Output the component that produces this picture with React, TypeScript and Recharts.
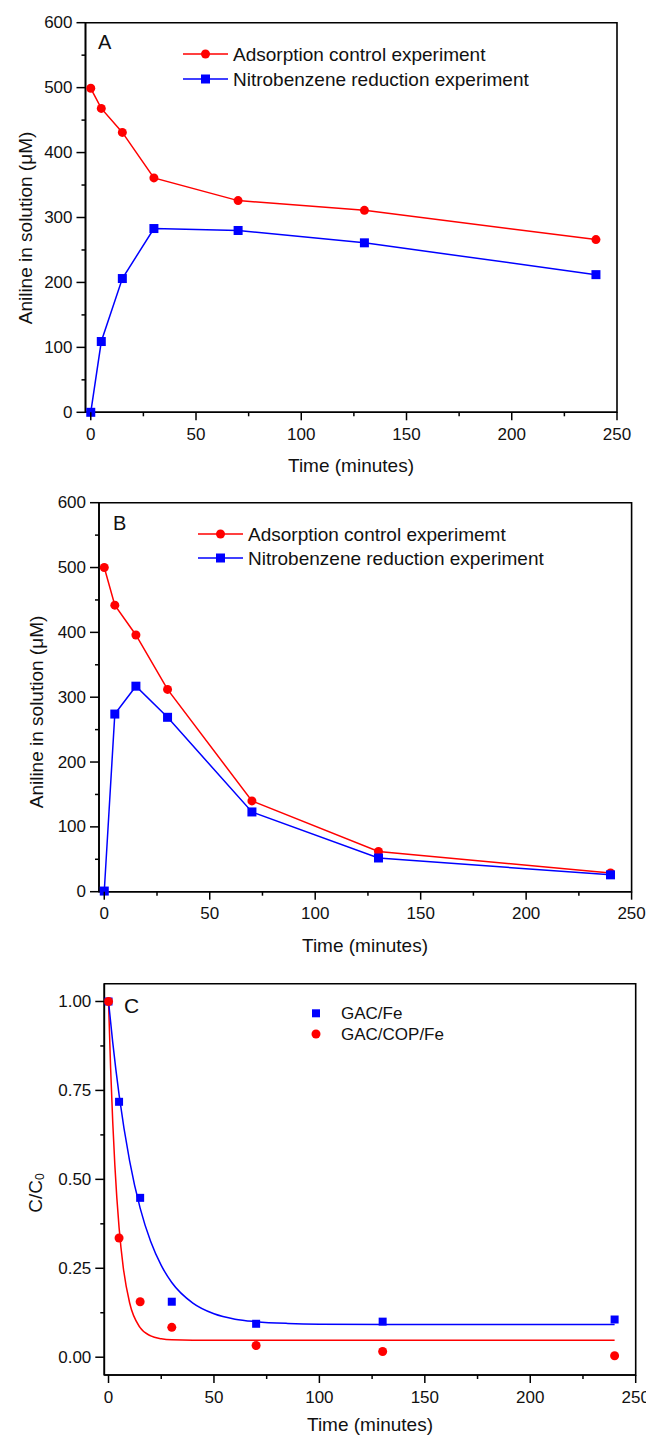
import React from "react";
import { LineChart, Line, XAxis, YAxis, ReferenceArea, ComposedChart, Scatter } from "recharts";

// ---------- data ----------
const timesAB = [0, 5, 15, 30, 70, 130, 240];
const adsorptionA = [499, 468, 431, 361, 326, 311, 266];
const nitroA = [0, 109, 206, 283, 280, 261, 212];
const adsorptionB = [500, 442, 396, 312, 140, 62, 29];
const nitroB = [1, 274, 317, 269, 123, 52, 26];

const timesC = [0, 5, 15, 30, 70, 130, 240];
const gacFe = [1.0, 0.718, 0.448, 0.156, 0.094, 0.1, 0.106];
const gacCopFe = [1.0, 0.335, 0.156, 0.084, 0.033, 0.016, 0.004];

const fitTimesBlue = [0, 2, 5, 10, 15, 20, 25, 30, 40, 50, 60, 70, 85, 100, 150, 240];
const fitBlue = [1.0, 0.885, 0.738, 0.552, 0.419, 0.325, 0.258, 0.21, 0.152, 0.122, 0.107, 0.1, 0.095, 0.093, 0.092, 0.092];
const fitTimesRed = [0, 1, 2, 3, 5, 7, 10, 15, 20, 25, 30, 40, 240];
const fitRed = [1.0, 0.812, 0.661, 0.54, 0.365, 0.252, 0.153, 0.083, 0.06, 0.052, 0.049, 0.048, 0.048];

const xTicks = [0, 25, 50, 75, 100, 125, 150, 175, 200, 225, 250];
const yTicksAB = [0, 50, 100, 150, 200, 250, 300, 350, 400, 450, 500, 550, 600];
const yTicksC = [0, 0.125, 0.25, 0.375, 0.5, 0.625, 0.75, 0.875, 1.0];

const legendAB_A = ["Adsorption control experiment", "Nitrobenzene reduction experiment"];
const legendAB_B = ["Adsorption control experimemt", "Nitrobenzene reduction experiment"];
const legendC = ["GAC/Fe", "GAC/COP/Fe"];

const rowsA = timesAB.map((t, i) => ({ t, red: adsorptionA[i], blue: nitroA[i] }));
const rowsB = timesAB.map((t, i) => ({ t, red: adsorptionB[i], blue: nitroB[i] }));
const ptsBlueC = timesC.map((t, i) => ({ t, v: gacFe[i] }));
const ptsRedC = timesC.map((t, i) => ({ t, v: gacCopFe[i] }));
const curveBlueC = fitTimesBlue.map((t, i) => ({ t, v: fitBlue[i] }));
const curveRedC = fitTimesRed.map((t, i) => ({ t, v: fitRed[i] }));

// ---------- styles ----------
const FONT = "'Liberation Sans', Arial, Helvetica, sans-serif";
const RED = "#ff0000";
const BLUE = "#0000ff";
const YW = 60; // y-axis area width
const XH = 40; // x-axis area height

const XTick = (props: any) => {
  const { x, y, payload } = props;
  const v = payload.value;
  const major = v % 50 === 0;
  return (
    <g>
      <line x1={x} x2={x} y1={y} y2={y + (major ? 8 : 4)} stroke="#000" strokeWidth={1.5} />
      {major && (
        <text x={x} y={y + 22} textAnchor="middle" dominantBaseline="central" fontSize={17} fontFamily={FONT} fill="#111">
          {v}
        </text>
      )}
    </g>
  );
};

const YTickAB = (props: any) => {
  const { x, y, payload } = props;
  const v = payload.value;
  const major = v % 100 === 0;
  return (
    <g>
      <line x1={x} x2={x - (major ? 9 : 4)} y1={y} y2={y} stroke="#000" strokeWidth={1.5} />
      {major && (
        <text x={x - 13} y={y} textAnchor="end" dominantBaseline="central" fontSize={17} fontFamily={FONT} fill="#111">
          {v}
        </text>
      )}
    </g>
  );
};

const YTickC = (props: any) => {
  const { x, y, payload } = props;
  const v = payload.value;
  const major = Math.abs(v * 4 - Math.round(v * 4)) < 1e-6;
  return (
    <g>
      <line x1={x} x2={x - (major ? 9 : 4)} y1={y} y2={y} stroke="#000" strokeWidth={1.5} />
      {major && (
        <text x={x - 13} y={y} textAnchor="end" dominantBaseline="central" fontSize={17} fontFamily={FONT} fill="#111">
          {v.toFixed(2)}
        </text>
      )}
    </g>
  );
};

const SquareDot = (color: string, size: number) => (props: any) => {
  const { cx, cy, index } = props;
  if (cx == null || cy == null) return <g key={index} />;
  return <rect key={index} x={cx - size / 2} y={cy - size / 2} width={size} height={size} fill={color} />;
};
const CircleDot = (color: string, r: number) => (props: any) => {
  const { cx, cy, index } = props;
  if (cx == null || cy == null) return <g key={index} />;
  return <circle key={index} cx={cx} cy={cy} r={r} fill={color} />;
};

const ScatterSquare = (color: string, size: number) => (props: any) => {
  const { cx, cy } = props;
  return <rect x={cx - size / 2} y={cy - size / 2} width={size} height={size} fill={color} />;
};
const ScatterCircle = (color: string, r: number) => (props: any) => {
  const { cx, cy } = props;
  return <circle cx={cx} cy={cy} r={r} fill={color} />;
};

const xDomainAB: [number, number] = [-2.5, 250];
const yDomainAB: [number, number] = [0, 600];
const xDomainC: [number, number] = [-2, 250];
const yDomainC: [number, number] = [-0.05, 1.05];

function PanelAB({ rows, margin }: { rows: any[]; margin: any }) {
  return (
    <LineChart width={646} height={480} data={rows} margin={margin}>
      <ReferenceArea
        x1={xDomainAB[0]}
        x2={xDomainAB[1]}
        y1={yDomainAB[0]}
        y2={yDomainAB[1]}
        fill="none"
        fillOpacity={0}
        stroke="#000"
        strokeWidth={1.6}
      />
      <XAxis
        dataKey="t"
        type="number"
        domain={xDomainAB}
        ticks={xTicks}
        interval={0}
        height={XH}
        tickSize={0}
        tickMargin={0}
        tick={XTick}
        axisLine={{ stroke: "#000", strokeWidth: 1.6 }}
        tickLine={false}
      />
      <YAxis
        type="number"
        domain={yDomainAB}
        ticks={yTicksAB}
        interval={0}
        width={YW}
        tickSize={0}
        tickMargin={0}
        tick={YTickAB}
        axisLine={{ stroke: "#000", strokeWidth: 1.6 }}
        tickLine={false}
      />
      <Line
        dataKey="red"
        stroke={RED}
        strokeWidth={1.5}
        type="linear"
        dot={CircleDot(RED, 4.5)}
        isAnimationActive={false}
      />
      <Line
        dataKey="blue"
        stroke={BLUE}
        strokeWidth={1.5}
        type="linear"
        dot={SquareDot(BLUE, 9)}
        isAnimationActive={false}
      />
    </LineChart>
  );
}

function PanelC() {
  return (
    <ComposedChart width={646} height={476} margin={{ top: 23.7, right: 10.3, bottom: 61 - XH, left: 104.3 - YW }}>
      <ReferenceArea
        x1={xDomainC[0]}
        x2={xDomainC[1]}
        y1={yDomainC[0]}
        y2={yDomainC[1]}
        fill="none"
        fillOpacity={0}
        stroke="#000"
        strokeWidth={1.6}
      />
      <XAxis
        dataKey="t"
        type="number"
        domain={xDomainC}
        ticks={xTicks}
        interval={0}
        height={XH}
        tickSize={0}
        tickMargin={0}
        tick={XTick}
        axisLine={{ stroke: "#000", strokeWidth: 1.6 }}
        tickLine={false}
      />
      <YAxis
        dataKey="v"
        type="number"
        domain={yDomainC}
        ticks={yTicksC}
        interval={0}
        width={YW}
        tickSize={0}
        tickMargin={0}
        tick={YTickC}
        axisLine={{ stroke: "#000", strokeWidth: 1.6 }}
        tickLine={false}
      />
      <Line data={curveRedC} dataKey="v" stroke={RED} strokeWidth={1.5} type="monotone" dot={false} isAnimationActive={false} />
      <Line data={curveBlueC} dataKey="v" stroke={BLUE} strokeWidth={1.5} type="monotone" dot={false} isAnimationActive={false} />
      <Scatter data={ptsBlueC} dataKey="v" fill={BLUE} shape={ScatterSquare(BLUE, 8)} isAnimationActive={false} />
      <Scatter data={ptsRedC} dataKey="v" fill={RED} shape={ScatterCircle(RED, 4.5)} isAnimationActive={false} />
    </ComposedChart>
  );
}

function LineLegendItem({ x, y, color, shape, label }: any) {
  return (
    <g>
      <line x1={x} x2={x + 45} y1={y} y2={y} stroke={color} strokeWidth={1.5} />
      {shape === "circle" ? (
        <circle cx={x + 22.5} cy={y} r={4.5} fill={color} />
      ) : (
        <rect x={x + 18} y={y - 4.5} width={9} height={9} fill={color} />
      )}
      <text x={x + 50} y={y} dominantBaseline="central" fontSize={19} fontFamily={FONT} fill="#111">
        {label}
      </text>
    </g>
  );
}

function Overlay() {
  return (
    <svg
      width={646}
      height={1436}
      style={{ position: "absolute", top: 0, left: 0, pointerEvents: "none" }}
    >
      {/* Panel A */}
      <text x={98} y={42} dominantBaseline="central" fontSize={20} fontFamily={FONT} fill="#111">A</text>
      <LineLegendItem x={183} y={54} color={RED} shape="circle" label={legendAB_A[0]} />
      <LineLegendItem x={183} y={79} color={BLUE} shape="square" label={legendAB_A[1]} />
      <text x={351} y={465} textAnchor="middle" dominantBaseline="central" fontSize={19} fontFamily={FONT} fill="#111">
        Time (minutes)
      </text>
      <text
        transform="translate(25,228) rotate(-90)"
        textAnchor="middle"
        dominantBaseline="central"
        fontSize={19}
        fontFamily={FONT}
        fill="#111"
      >
        Aniline in solution (μM)
      </text>

      {/* Panel B */}
      <text x={113} y={523} dominantBaseline="central" fontSize={20} fontFamily={FONT} fill="#111">B</text>
      <LineLegendItem x={198} y={534} color={RED} shape="circle" label={legendAB_B[0]} />
      <LineLegendItem x={198} y={558} color={BLUE} shape="square" label={legendAB_B[1]} />
      <text x={365} y={945} textAnchor="middle" dominantBaseline="central" fontSize={19} fontFamily={FONT} fill="#111">
        Time (minutes)
      </text>
      <text
        transform="translate(36,712) rotate(-90)"
        textAnchor="middle"
        dominantBaseline="central"
        fontSize={19}
        fontFamily={FONT}
        fill="#111"
      >
        Aniline in solution (μM)
      </text>

      {/* Panel C */}
      <text x={124} y={1005} dominantBaseline="central" fontSize={21} fontFamily={FONT} fill="#111">C</text>
      <rect x={312} y={1009.3} width={8} height={8} fill={BLUE} />
      <text x={341} y={1013.3} dominantBaseline="central" fontSize={17} fontFamily={FONT} fill="#111">{legendC[0]}</text>
      <circle cx={316} cy={1034} r={4.5} fill={RED} />
      <text x={341} y={1034} dominantBaseline="central" fontSize={17} fontFamily={FONT} fill="#111">{legendC[1]}</text>
      <text x={370} y={1424} textAnchor="middle" dominantBaseline="central" fontSize={19} fontFamily={FONT} fill="#111">
        Time (minutes)
      </text>
      <text
        transform="translate(35,1193) rotate(-90)"
        textAnchor="middle"
        dominantBaseline="central"
        fontSize={19}
        fontFamily={FONT}
        fill="#111"
      >
        C/C<tspan fontSize={12} dy={5}>0</tspan>
      </text>
    </svg>
  );
}

export default function App() {
  return (
    <div style={{ position: "absolute", top: 0, left: 0, width: 646, height: 1436, background: "#fff", overflow: "hidden" }}>
      <div style={{ position: "absolute", top: 0, left: 0 }}>
        <PanelAB rows={rowsA} margin={{ top: 22.7, right: 29, bottom: 67.7 - XH, left: 85.5 - YW }} />
      </div>
      <div style={{ position: "absolute", top: 480, left: 0 }}>
        <PanelAB rows={rowsB} margin={{ top: 22.7, right: 14.4, bottom: 68.3 - XH, left: 99 - YW }} />
      </div>
      <div style={{ position: "absolute", top: 960, left: 0 }}>
        <PanelC />
      </div>
      <Overlay />
    </div>
  );
}
